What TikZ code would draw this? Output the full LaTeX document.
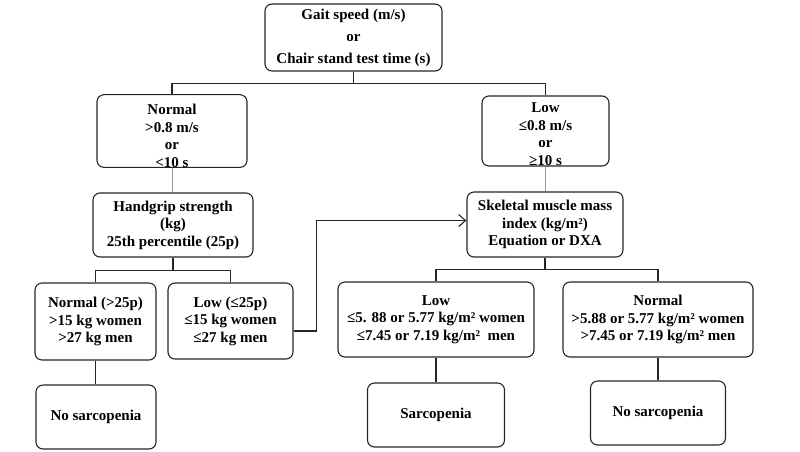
\documentclass[tikz,border=0pt]{standalone}
\usepackage{fontspec}
\setmainfont{Liberation Serif}
\usetikzlibrary{arrows.meta,calc}
\begin{document}
\begin{tikzpicture}[x=1pt,y=-1pt,
  box/.style={draw=black!85,line width=1.1pt,rounded corners=7pt,align=center,inner sep=0pt,
    font=\fontsize{15}{17.5}\selectfont\bfseries},
  link/.style={draw=black!85,line width=1.1pt},
  glink/.style={draw=black!40,line width=0.9pt}]
\useasboundingbox[fill=white] (0,0) rectangle (800,451);
\node[box,minimum width=177pt,minimum height=67pt,font=\fontsize{15}{22}\selectfont\bfseries] (top) at (353.5,37.5) {Gait speed (m/s)\\or\\Chair stand test time (s)};
\node[box,minimum width=150pt,minimum height=70pt] (normal) at (172,131) {\rule{0pt}{20pt}Normal\\>0.8 m/s\\or\\<10 s};
\node[box,minimum width=127pt,minimum height=70pt] (low) at (545.5,131) {\rule{0pt}{16pt}Low\\≤0.8 m/s\\or\\≥10 s};
\node[box,minimum width=160pt,minimum height=64pt] (hand) at (173,225) {Handgrip strength\\(kg)\\25th percentile (25p)};
\node[box,minimum width=156pt,minimum height=65pt] (smi) at (545,224.5) {Skeletal muscle mass\\index (kg/m²)\\Equation or DXA};
\node[box,minimum width=121pt,minimum height=77pt] (n25) at (95.5,321.5) {Normal (>25p)\\>15 kg women\\>27 kg men};
\node[box,minimum width=125pt,minimum height=76pt] (l25) at (230.5,321) {Low (≤25p)\\≤15 kg women\\≤27 kg men};
\node[box,minimum width=120pt,minimum height=64pt] (nos1) at (96,417) {No sarcopenia};
\node[box,minimum width=196pt,minimum height=75pt] (smilow) at (436,319.5) {Low\\≤5. 88 or 5.77 kg/m² women\\≤7.45 or 7.19 kg/m²\ \ men};
\node[box,minimum width=190pt,minimum height=75pt] (sminorm) at (658,319.5) {Normal\\>5.88 or 5.77 kg/m² women\\>7.45 or 7.19 kg/m² men};
\node[box,minimum width=137pt,minimum height=64pt] (sarc) at (436,415) {Sarcopenia};
\node[box,minimum width=135pt,minimum height=64pt] (nos2) at (658,413) {No sarcopenia};
% connectors
\draw[link] (top.south) -- ++(0,12) -| (normal.north);
\draw[link] (top.south) -- ++(0,12) -| (low.north);
\draw[glink] (normal.south) -- (hand.north -| normal.south);
\draw[glink] (low.south) -- (smi.north -| low.south);
\draw[link] (hand.south) -- ++(0,13) -| (n25.north);
\draw[link] (hand.south) -- ++(0,13) -| (l25.north);
\draw[link,-{Straight Barb[length=7pt,width=12pt,line width=1.1pt]}] ($(l25.east)+(0,10)$) -- ++(23,0) |- ($(smi.west)+(0,-4)$);
\draw[link] (n25.south) -- (n25.south |- nos1.north);
\draw[link] (smi.south) -- ++(0,12) -| (smilow.north);
\draw[link] (smi.south) -- ++(0,12) -| (sminorm.north);
\draw[link] (smilow.south) -- (sarc.north);
\draw[link] (sminorm.south) -- (nos2.north);
\end{tikzpicture}
\end{document}
